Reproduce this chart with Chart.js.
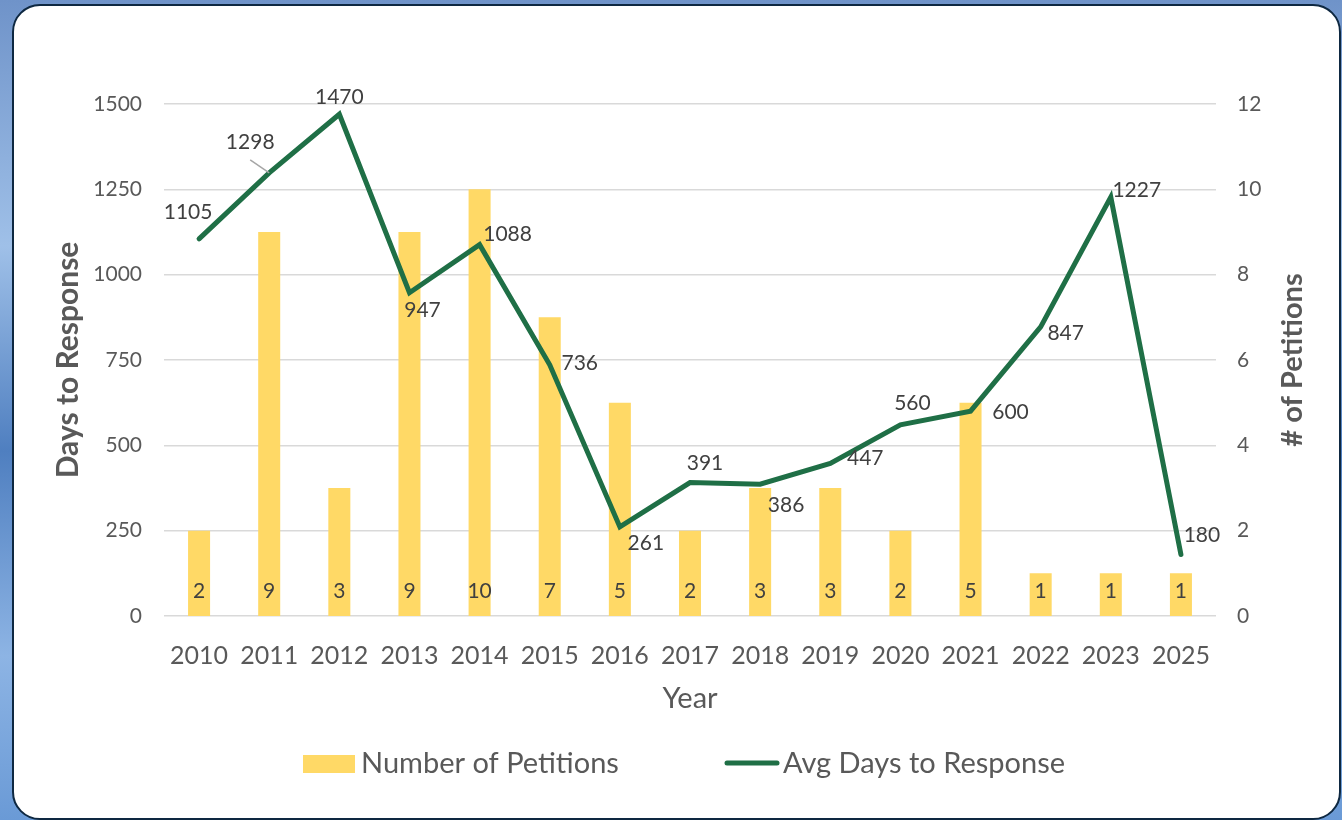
<!DOCTYPE html>
<html>
<head>
<meta charset="utf-8">
<script src="https://cdn.jsdelivr.net/npm/chart.js@4.4.1/dist/chart.umd.min.js"></script>
<style>
  html, body { margin: 0; padding: 0; width: 1342px; height: 820px; overflow: hidden; }
  body { background: linear-gradient(180deg, #6f93c9 0%, #9fc0e8 30%, #4f7fc0 55%, #8db4e4 80%, #6a9ad6 100%); position: relative; }
  #card { position: absolute; left: 12px; top: 4px; width: 1325px; height: 812px; background: #fff; border: 2px solid #0e2841; border-radius: 28px; }
  #wrap { position: absolute; left: 0; top: 0; width: 1342px; height: 820px; }
</style>
</head>
<body>
<div id="card"></div>
<div id="wrap"><canvas id="c" width="1342" height="820"></canvas></div>
<script>
const years = ['2010','2011','2012','2013','2014','2015','2016','2017','2018','2019','2020','2021','2022','2023','2025'];
const petitions = [2, 9, 3, 9, 10, 7, 5, 2, 3, 3, 2, 5, 1, 1, 1];
const avgDays = [1105, 1298, 1470, 947, 1088, 736, 261, 391, 386, 447, 560, 600, 847, 1227, 180];
const daysTicks = [0, 250, 500, 750, 1000, 1250, 1500];
const petitionTicks = [0, 2, 4, 6, 8, 10, 12];

// label placement offsets (style only, in px relative to the point)
const lineLabelOffsets = [[-11,-27],[-19,-31],[0,-17],[13,17],[28,-10],[30,-2],[26,16],[15,-19],[26,21],[35,-5],[12,-22],[40,1],[25,6],[26,-7],[21,-19]];

const FONT = 'Lato, "Open Sans", sans-serif';
const GREEN = '#1f6f46';
const GOLD = '#FFD966';
const TICK = '#595959';
const LABEL = '#404040';

const overlay = {
  id: 'overlay',
  afterDatasetsDraw(chart) {
    const ctx = chart.ctx;
    const x = chart.scales.x, y = chart.scales.y, y1 = chart.scales.y1;
    ctx.save();
    // bar labels (inside base)
    ctx.font = '21px ' + FONT;
    ctx.fillStyle = LABEL;
    ctx.textAlign = 'center';
    ctx.textBaseline = 'middle';
    petitions.forEach((v, i) => {
      ctx.fillText(String(v), x.getPixelForValue(i), y1.getPixelForValue(0) - 25);
    });
    // line labels
    avgDays.forEach((v, i) => {
      const px = x.getPixelForValue(i), py = y.getPixelForValue(v);
      const o = lineLabelOffsets[i];
      ctx.fillText(String(v), px + o[0], py + o[1]);
    });
    // leader line for 2011
    {
      const px = x.getPixelForValue(1), py = y.getPixelForValue(avgDays[1]);
      ctx.strokeStyle = '#a6a6a6';
      ctx.lineWidth = 1.5;
      ctx.beginPath();
      ctx.moveTo(px - 19, py - 13);
      ctx.lineTo(px, py);
      ctx.stroke();
    }
    // axis titles
    ctx.fillStyle = TICK;
    const midY = (chart.chartArea.top + chart.chartArea.bottom) / 2;
    ctx.font = 'bold 30px ' + FONT;
    ctx.save();
    ctx.translate(68, midY);
    ctx.rotate(-Math.PI / 2);
    ctx.fillText('Days to Response', 0, 0);
    ctx.restore();
    ctx.font = 'bold 29px ' + FONT;
    ctx.save();
    ctx.translate(1293, midY);
    ctx.rotate(-Math.PI / 2);
    ctx.fillText('# of Petitions', 0, 0);
    ctx.restore();
    ctx.font = '29px ' + FONT;
    ctx.fillText('Year', (chart.chartArea.left + chart.chartArea.right) / 2, 699);
    // legend
    ctx.fillStyle = GOLD;
    ctx.fillRect(303, 755, 52, 18);
    ctx.fillStyle = TICK;
    ctx.textAlign = 'left';
    ctx.font = '29px ' + FONT;
    ctx.fillText(chart.data.datasets[1].label, 361, 764);
    ctx.strokeStyle = GREEN;
    ctx.lineWidth = 5;
    ctx.lineCap = 'round';
    ctx.beginPath();
    ctx.moveTo(727, 763);
    ctx.lineTo(777, 763);
    ctx.stroke();
    ctx.fillText(chart.data.datasets[0].label, 783, 764);
    ctx.restore();
  }
};

new Chart(document.getElementById('c'), {
  data: {
    labels: years,
    datasets: [
      {
        type: 'line',
        label: 'Avg Days to Response',
        data: avgDays,
        yAxisID: 'y',
        borderColor: GREEN,
        borderWidth: 5,
        pointRadius: 0,
        tension: 0,
        borderCapStyle: 'round',
        borderJoinStyle: 'miter',
        order: 0
      },
      {
        type: 'bar',
        label: 'Number of Petitions',
        data: petitions,
        yAxisID: 'y1',
        backgroundColor: GOLD,
        categoryPercentage: 1,
        barPercentage: 0.314,
        order: 1
      }
    ]
  },
  options: {
    responsive: false,
    animation: false,
    layout: { padding: { top: 104, left: 0, right: 0, bottom: 0 } },
    plugins: { legend: { display: false }, tooltip: { enabled: false } },
    scales: {
      x: {
        grid: { display: false },
        border: { display: false },
        ticks: { color: TICK, font: { family: FONT, size: 25 }, padding: 17, maxRotation: 0, autoSkip: false },
        afterFit(s) { s.height = 820 - 616; }
      },
      y: {
        position: 'left',
        min: 0, max: 1500,
        afterBuildTicks(s) { s.ticks = daysTicks.map(v => ({ value: v })); },
        grid: { color: '#d9d9d9', lineWidth: 1.5, drawTicks: false },
        border: { display: false },
        ticks: { color: TICK, font: { family: FONT, size: 21 }, padding: 22, callback: v => String(v) },
        afterFit(s) { s.width = 164; }
      },
      y1: {
        position: 'right',
        min: 0, max: 12,
        afterBuildTicks(s) { s.ticks = petitionTicks.map(v => ({ value: v })); },
        grid: { display: false, drawTicks: false },
        border: { display: false },
        ticks: { color: TICK, font: { family: FONT, size: 21 }, padding: 21, callback: v => String(v) },
        afterFit(s) { s.width = 1342 - 1216; }
      }
    }
  },
  plugins: [overlay]
});
</script>
</body>
</html>
